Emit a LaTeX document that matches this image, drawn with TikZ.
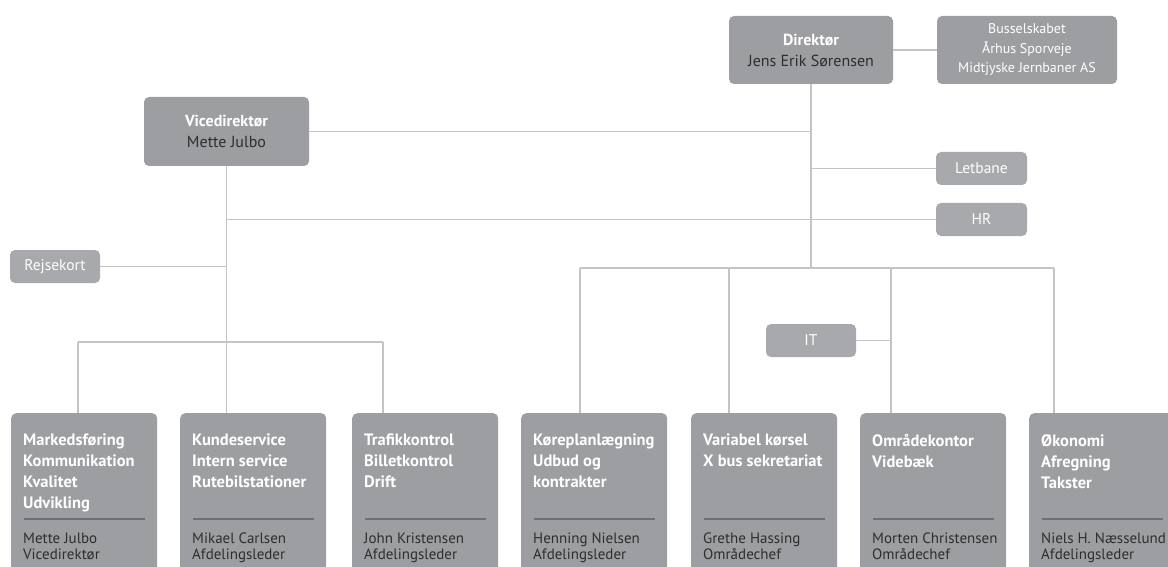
\documentclass[tikz,border=0pt]{standalone}
\usepackage{fontspec}
\setmainfont{PT Sans}
\usetikzlibrary{calc}
\definecolor{boxgray}{HTML}{9D9EA1}
\definecolor{smallgray}{HTML}{A8A9AC}
\definecolor{linegray}{HTML}{C4C4C4}
\definecolor{darktext}{HTML}{2E2E2E}
\definecolor{sepgray}{HTML}{6F7073}
\begin{document}
\begin{tikzpicture}[x=1pt,y=-1pt,
 conn/.style={draw=linegray,line width=1.3pt},
 mainbox/.style={fill=boxgray,rounded corners=5pt,inner sep=0pt,align=center,text=darktext,font=\fontsize{16}{21}\selectfont},
 smallbox/.style={fill=smallgray,rounded corners=5pt,inner sep=0pt,text=white,align=center,font=\fontsize{15.5}{19.5}\selectfont},
 deptbox/.style={fill=boxgray,rounded corners=5pt,inner sep=0pt,minimum width=146pt,minimum height=200pt,anchor=north west},
 depthead/.style={anchor=north west,inner sep=0pt,align=left,text=white,font=\bfseries\fontsize{16.5}{21}\selectfont},
 deptname/.style={anchor=north west,inner sep=0pt,align=left,text=darktext,font=\fontsize{15}{15.3}\selectfont},
 sepline/.style={draw=sepgray,line width=1.2pt}]
\useasboundingbox (0,0) rectangle (1168,567);
\clip (0,0) rectangle (1168,567);

% top boxes
\node[mainbox,minimum width=164pt,minimum height=68pt] (dir) at (811,50) {\textcolor{white}{\textbf{Direktør}}\\Jens Erik Sørensen};
\node[mainbox,text=white,font=\fontsize{14}{19.5}\selectfont,minimum width=180pt,minimum height=68pt] (bus) at (1027,50) {Busselskabet\\Århus Sporveje\\Midtjyske Jernbaner AS};
\node[mainbox,minimum width=165pt,minimum height=69pt] (vice) at (226.5,131.5) {\textcolor{white}{\textbf{Vicedirektør}}\\Mette Julbo};
\node[smallbox,minimum width=91pt,minimum height=33pt] (let) at (981.5,168.5) {Letbane};
\node[smallbox,minimum width=91pt,minimum height=33pt] (hr) at (981.5,219.5) {HR};
\node[smallbox,minimum width=90pt,minimum height=33pt] (rej) at (55,266.5) {Rejsekort};
\node[smallbox,minimum width=90pt,minimum height=33pt] (it) at (811,340.5) {IT};

% department boxes
\node[deptbox] (d1) at (11,413) {};
\node[deptbox] (d2) at (180,413) {};
\node[deptbox] (d3) at (352,413) {};
\node[deptbox] (d4) at (521,413) {};
\node[deptbox] (d5) at (691,413) {};
\node[deptbox] (d6) at (860,413) {};
\node[deptbox] (d7) at (1029,413) {};

\node[depthead] (h1) at ($(d1.north west)+(12,21)$) {Markedsføring\\Kommunikation\\Kvalitet\\Udvikling};
\node[depthead] (h2) at ($(d2.north west)+(12,21)$) {Kundeservice\\Intern service\\Rutebilstationer};
\node[depthead] (h3) at ($(d3.north west)+(12,21)$) {Trafikkontrol\\Billetkontrol\\Drift};
\node[depthead] (h4) at ($(d4.north west)+(12,21)$) {Køreplanlægning\\Udbud og\\kontrakter};
\node[depthead] (h5) at ($(d5.north west)+(12,21)$) {Variabel kørsel\\X bus sekretariat};
\node[depthead] (h6) at ($(d6.north west)+(12,21)$) {Områdekontor\\Videbæk};
\node[depthead] (h7) at ($(d7.north west)+(12,21)$) {Økonomi\\Afregning\\Takster};

\foreach \d in {d1,d2,d3,d4,d5,d6,d7}{
  \draw[sepline] ($(\d.north west)+(13,106)$) -- ($(\d.north west)+(134,106)$);
}

\node[deptname] (n1) at ($(d1.north west)+(12,120)$) {Mette Julbo\\Vicedirektør};
\node[deptname] (n2) at ($(d2.north west)+(12,120)$) {Mikael Carlsen\\Afdelingsleder};
\node[deptname] (n3) at ($(d3.north west)+(12,120)$) {John Kristensen\\Afdelingsleder};
\node[deptname] (n4) at ($(d4.north west)+(12,120)$) {Henning Nielsen\\Afdelingsleder};
\node[deptname] (n5) at ($(d5.north west)+(12,120)$) {Grethe Hassing\\Områdechef};
\node[deptname] (n6) at ($(d6.north west)+(12,120)$) {Morten Christensen\\Områdechef};
\node[deptname] (n7) at ($(d7.north west)+(12,120)$) {Niels H. Næsselund\\Afdelingsleder};

% junction coordinates
\coordinate (c1) at (78,342);
\coordinate (c3) at (383,342);
\coordinate (c4) at (580,268);
\coordinate (c5) at (729,268);
\coordinate (c6) at (891,268);
\coordinate (c7) at (1054,268);

% connectors
\draw[conn] (dir.east) -- (bus.west);
\draw[conn] (dir.south) -- (dir.south |- c4);
\draw[conn] (vice.east) -- (vice.east -| dir.south);
\draw[conn] (let.west) -- (let.west -| dir.south);
\draw[conn] (hr.west) -- (hr.west -| vice.south);
\draw[conn] (rej.east) -- (rej.east -| vice.south);
\draw[conn] (vice.south) -- (vice.south |- c1);
\draw[conn] (c1) -- (c3);
\draw[conn] (c4) -- (c7);
\draw[conn] (c1) -- (c1 |- d1.north);
\draw[conn] (vice.south |- c1) -- (vice.south |- d2.north);
\draw[conn] (c3) -- (c3 |- d3.north);
\draw[conn] (c4) -- (c4 |- d4.north);
\draw[conn] (c5) -- (c5 |- d5.north);
\draw[conn] (c6) -- (c6 |- d6.north);
\draw[conn] (c7) -- (c7 |- d7.north);
\draw[conn] (it.east) -- (it.east -| c6);
\end{tikzpicture}
\end{document}
